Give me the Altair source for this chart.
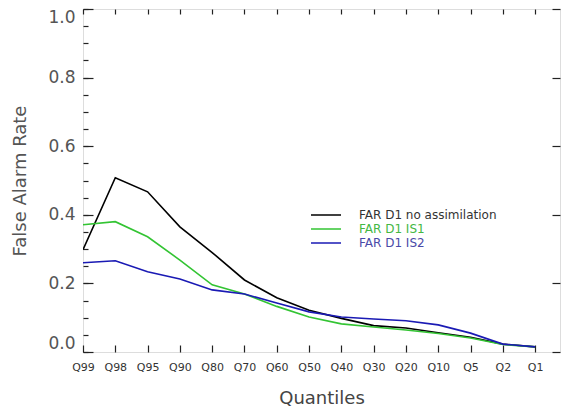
import altair as alt
import pandas as pd

quantiles = ["Q99", "Q98", "Q95", "Q90", "Q80", "Q70", "Q60", "Q50",
             "Q40", "Q30", "Q20", "Q10", "Q5", "Q2", "Q1"]
series_names = ["FAR D1 no assimilation", "FAR D1 IS1", "FAR D1 IS2"]
far_no_assim = [0.298, 0.508, 0.467, 0.365, 0.290, 0.210, 0.158, 0.122,
                0.098, 0.077, 0.070, 0.056, 0.043, 0.023, 0.015]
far_is1 = [0.371, 0.380, 0.336, 0.268, 0.196, 0.169, 0.133, 0.102,
           0.082, 0.073, 0.064, 0.054, 0.041, 0.022, 0.015]
far_is2 = [0.260, 0.266, 0.234, 0.213, 0.181, 0.169, 0.143, 0.117,
           0.102, 0.096, 0.091, 0.079, 0.055, 0.023, 0.015]
line_colors = ["#000000", "#33c433", "#1a1ab4"]
y_major = [0.0, 0.2, 0.4, 0.6, 0.8, 1.0]
y_minor = [round(0.05 * i, 2) for i in range(21)]

rows = []
for i, q in enumerate(quantiles):
    for name, vals in zip(series_names, [far_no_assim, far_is1, far_is2]):
        rows.append({"idx": i, "q": q, "series": name, "far": vals[i]})
df = pd.DataFrame(rows)

xscale = alt.Scale(domain=[0, 14.77], nice=False, zero=False)
yscale = alt.Scale(domain=[0, 1], nice=False, zero=False)
label_expr = "[" + ",".join("'%s'" % q for q in quantiles) + "][datum.value]"
font = "DejaVu Sans"

legend_color_expr = (
    "datum.label == 'FAR D1 IS1' ? '#44b844' : "
    "(datum.label == 'FAR D1 IS2' ? '#4a4aa8' : '#333333')"
)

lines = alt.Chart(df).mark_line(strokeWidth=1.6, clip=True).encode(
    x=alt.X("idx:Q", scale=xscale,
            axis=alt.Axis(orient="bottom", values=list(range(15)), labelExpr=label_expr,
                          title="Quantiles", domain=False, ticks=False, grid=False,
                          labelFont=font, labelFontSize=11, labelColor="#333333",
                          labelPadding=9, labelFlush=False,
                          titleFont=font, titleFontSize=18, titleFontWeight="normal",
                          titleColor="#444444", titlePadding=17)),
    y=alt.Y("far:Q", scale=yscale,
            axis=alt.Axis(orient="left", values=y_major, format=".1f",
                          title="False Alarm Rate", domain=False, ticks=False, grid=False,
                          labelFlush=True, labelFont=font, labelFontSize=17,
                          labelColor="#555555", labelPadding=8,
                          titleFont=font, titleFontSize=18, titleFontWeight="normal",
                          titleColor="#555555", titlePadding=18)),
    color=alt.Color("series:N",
                    scale=alt.Scale(domain=series_names, range=line_colors),
                    legend=alt.Legend(orient="none", legendX=237, legendY=200, title=None,
                                      symbolType="M-3,0H3", symbolSize=100,
                                      symbolStrokeWidth=1.5, labelFont=font,
                                      labelFontSize=12, labelOffset=27,
                                      labelColor={"expr": legend_color_expr},
                                      rowPadding=2)),
)

base = alt.Chart(df).mark_point(opacity=0)

def xticks(orient, size):
    return base.encode(
        x=alt.X("idx:Q", scale=xscale,
                axis=alt.Axis(orient=orient, values=list(range(15)), offset=-size,
                              tickSize=size, labels=False, domain=False, grid=False,
                              title=None, tickColor="#222222", tickWidth=1.2)),
        y=alt.Y("far:Q", scale=yscale, axis=None),
    )

def yticks(orient, vals, size):
    return base.encode(
        x=alt.X("idx:Q", scale=xscale, axis=None),
        y=alt.Y("far:Q", scale=yscale,
                axis=alt.Axis(orient=orient, values=vals, offset=-size,
                              tickSize=size, labels=False, domain=False, grid=False,
                              title=None, tickColor="#222222", tickWidth=1.2)),
    )

chart = alt.layer(
    lines,
    xticks("bottom", 7),
    xticks("top", 5),
    yticks("left", y_minor, 5),
    yticks("left", y_major, 10),
    yticks("right", y_major, 8),
).resolve_axis(x="independent", y="independent").properties(
    width=477, height=343,
    autosize=alt.AutoSizeParams(type="none"),
    padding={"left": 83, "top": 9, "right": 1, "bottom": 55},
).configure_view(stroke="#222222", strokeWidth=1.5).configure(background="white")

chart.save("out.html", embed_options={"renderer": "svg", "actions": False})
